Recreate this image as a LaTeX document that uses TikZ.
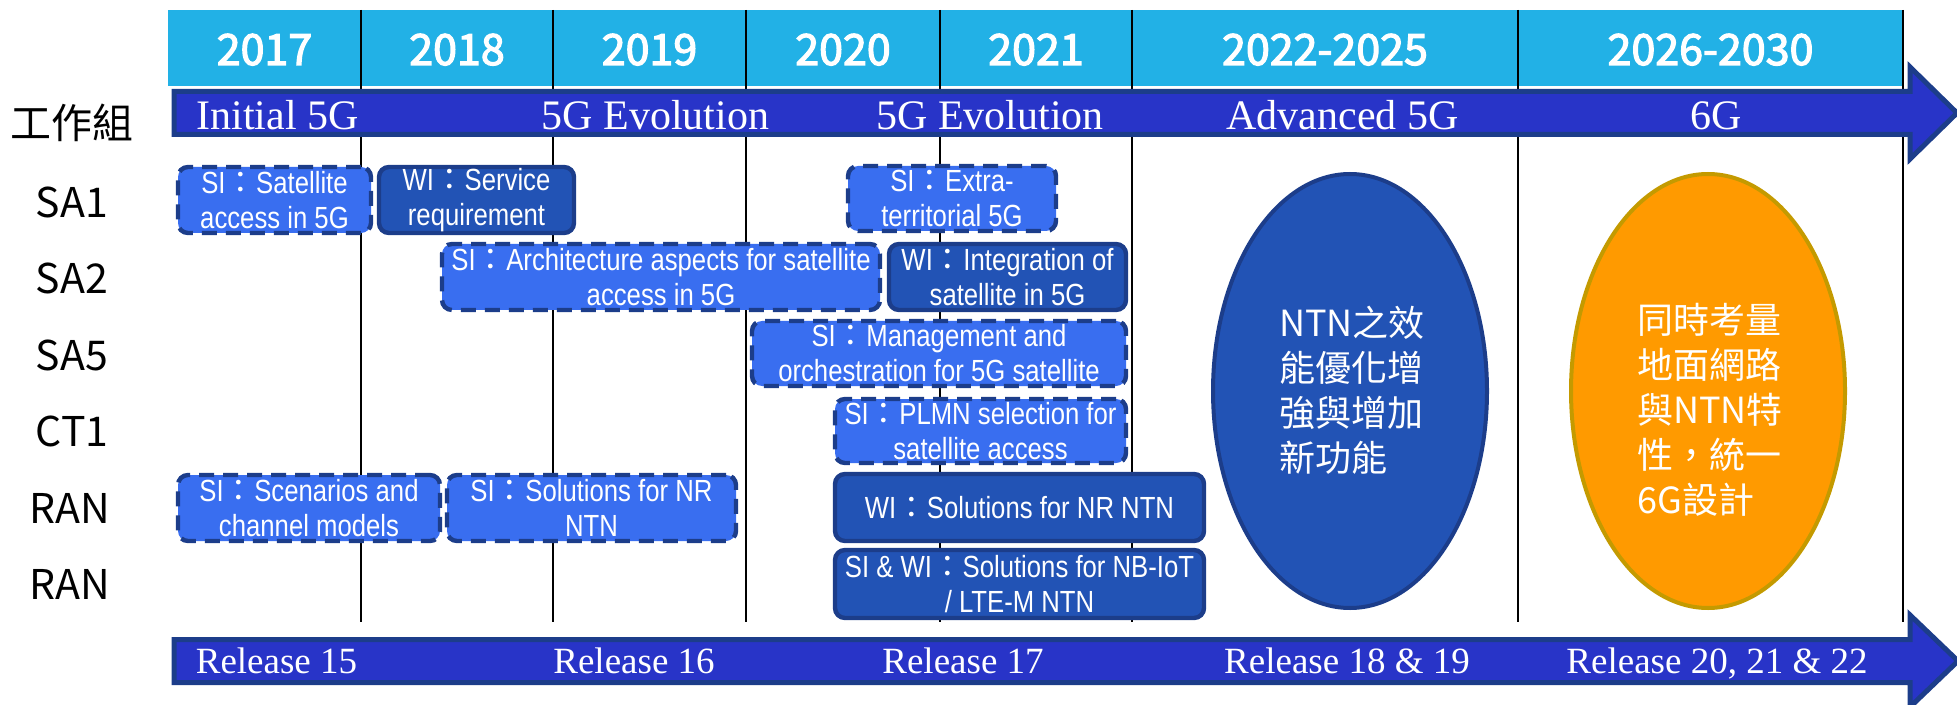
\documentclass[tikz,border=0pt]{standalone}
\usepackage{fontspec}
\usetikzlibrary{shapes.geometric}
\newfontfamily\cjk{Noto Sans CJK TC}
\newfontfamily\cjkyr[FakeBold=2.8]{Noto Sans CJK TC}
\newfontfamily\tnr{Liberation Serif}
\newfontfamily\narrow[FakeStretch=0.84]{Liberation Sans}
\newcommand\fcol{{\cjk ：}}
% box: style, x1, y1, x2, y2, name
\newcommand\wgbox[6]{\node[#1,minimum width={(#4-#2)*0.5pt},minimum height={(#5-#3)*0.5pt}] (#6) at ({(#2+#4)/2},{(#3+#5)/2})}
\definecolor{hdr}{HTML}{22B1E6}
\definecolor{barfill}{HTML}{2834C8}
\definecolor{navy}{HTML}{1C3D8A}
\definecolor{siblue}{HTML}{396EF0}
\definecolor{wiblue}{HTML}{2253B5}
\definecolor{orangefill}{HTML}{FF9A00}
\definecolor{orangeedge}{HTML}{C49A00}
\begin{document}
\begin{tikzpicture}[x=0.5pt,y=-0.5pt,
  vline/.style={black,line width=0.8pt},
  bar/.style={draw=navy,fill=barfill,line width=2.5pt,line join=miter},
  yeartxt/.style={text=white,font=\cjkyr\fontsize{21.5}{24}\selectfont,anchor=base,inner sep=0pt},
  phasetxt/.style={text=white,font=\tnr\fontsize{21}{24}\selectfont,anchor=base,inner sep=0pt},
  reltxt/.style={text=white,font=\tnr\fontsize{18.5}{21}\selectfont,anchor=base,inner sep=0pt},
  rowlbl/.style={text=black,font=\cjk\fontsize{20.5}{24}\selectfont,inner sep=0pt},
  boxbase/.style={draw=navy,line width=2.2pt,rounded corners=5pt,inner sep=0pt,text=white,align=center,
    font=\narrow\fontsize{15.3}{17.5}\selectfont},
  sibox/.style={boxbase,fill=siblue,dash pattern=on 7.5pt off 4.5pt},
  wibox/.style={boxbase,fill=wiblue},
  elltxt/.style={text=white,font=\cjk\fontsize{18}{22.5}\selectfont,align=left,inner sep=0pt}
]
\useasboundingbox (0,0) rectangle (1957,705);
\clip (0,0) rectangle (1957,705);
% header
\fill[hdr] (168,10) rectangle (1903,86);
\foreach \x in {361,553,746,940,1132,1518,1903} \draw[vline] (\x,10) -- (\x,622);
\node[yeartxt] (y17) at (264.5,65) {2017};
\node[yeartxt] (y18) at (457,65) {2018};
\node[yeartxt] (y19) at (649.5,65) {2019};
\node[yeartxt] (y20) at (843,65) {2020};
\node[yeartxt] (y21) at (1036,65) {2021};
\node[yeartxt] (y22) at (1325,65) {2022-2025};
\node[yeartxt] (y26) at (1710.5,65) {2026-2030};
% top phase arrow
\draw[bar] (174,91.5) -- (1910,91.5) -- (1910,67) -- (1957,113) -- (1910,159) -- (1910,134.5) -- (174,134.5) -- cycle;
\node[phasetxt,anchor=base west] (p1) at (196,130) {Initial 5G};
\node[phasetxt] (p2) at (655.5,130) {5G Evolution};
\node[phasetxt] (p3) at (990,130) {5G Evolution};
\node[phasetxt] (p4) at (1342.5,130) {Advanced 5G};
\node[phasetxt] (p5) at (1716,130) {6G};
% release arrow
\draw[bar] (174,639.5) -- (1910,639.5) -- (1910,615) -- (1958,661) -- (1910,707) -- (1910,682.5) -- (174,682.5) -- cycle;
\node[reltxt] (r15) at (276.5,673) {Release 15};
\node[reltxt] (r16) at (634,673) {Release 16};
\node[reltxt] (r17) at (963,673) {Release 17};
\node[reltxt] (r18) at (1347,673) {Release 18 \& 19};
\node[reltxt] (r20) at (1717,673) {Release 20, 21 \& 22};
% row labels
\node[rowlbl] (lwg) at (72,123) {工作組};
\node[rowlbl] (lsa1) at (72,202) {SA1};
\node[rowlbl] (lsa2) at (72,278) {SA2};
\node[rowlbl] (lsa5) at (72,355) {SA5};
\node[rowlbl] (lct1) at (72,431) {CT1};
\node[rowlbl] (lran1) at (70,508) {RAN};
\node[rowlbl] (lran2) at (70,584) {RAN};
% study / work items
\wgbox{sibox}{178}{167}{371}{233}{b1} {SI\fcol Satellite\\access in 5G};
\wgbox{wibox}{379}{167}{574}{233}{b2} {WI\fcol Service\\requirement};
\wgbox{sibox}{848}{166}{1056}{231}{b3} {SI\fcol Extra-\\territorial 5G};
\wgbox{sibox}{442}{244}{880}{310}{b4} {SI\fcol Architecture aspects for satellite\\access in 5G};
\wgbox{wibox}{889}{244}{1126}{310}{b5} {WI\fcol Integration of\\satellite in 5G};
\wgbox{sibox}{752}{321}{1126}{386}{b6} {SI\fcol Management and\\orchestration for 5G satellite};
\wgbox{sibox}{835}{399}{1126}{463}{b7} {SI\fcol PLMN selection for\\satellite access};
\wgbox{sibox}{178}{475}{440}{541}{b8} {SI\fcol Scenarios and\\channel models};
\wgbox{sibox}{447}{475}{736}{541}{b9} {SI\fcol Solutions for NR\\NTN};
\wgbox{wibox}{835}{474}{1204}{541}{b10} {WI\fcol Solutions for NR NTN};
\wgbox{wibox}{835}{550}{1204}{618}{b11} {SI \& WI\fcol Solutions for NB-IoT\\/ LTE-M NTN};
% ellipses
\node[ellipse,draw=navy,fill=wiblue,line width=2pt,minimum width=137pt,minimum height=217pt,inner sep=0pt] (e1) at (1350,391) {};
\node[elltxt] (e1t) at (1352,390) {NTN之效\\能優化增\\強與增加\\新功能};
\node[ellipse,draw=orangeedge,fill=orangefill,line width=2pt,minimum width=137pt,minimum height=217pt,inner sep=0pt] (e2) at (1708,391) {};
\node[elltxt] (e2t) at (1710,410) {同時考量\\地面網路\\與NTN特\\性，統一\\6G設計};
\end{tikzpicture}
\end{document}
